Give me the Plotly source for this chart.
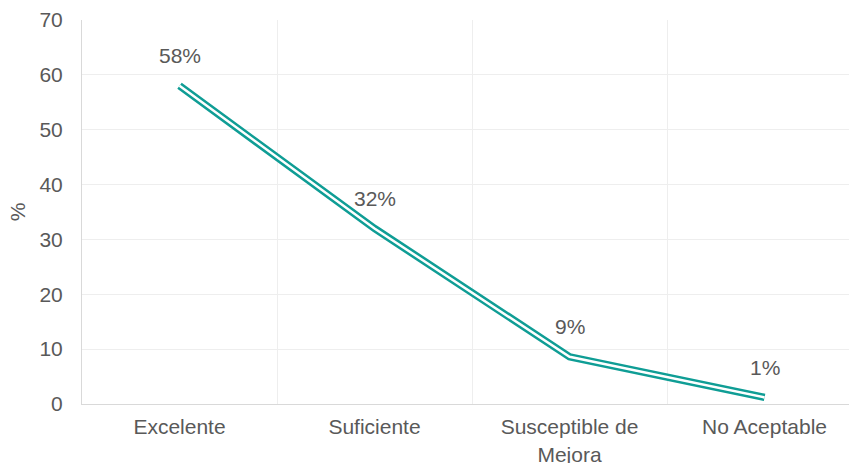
import plotly.graph_objects as go

categories = ["Excelente", "Suficiente", "Susceptible de<br>Mejora", "No Aceptable"]
values = [58, 32, 8.6, 1.2]
labels = ["58%", "32%", "9%", "1%"]
y_ticks = [0, 10, 20, 30, 40, 50, 60, 70]

teal = "#0F9D95"
grey = "#595959"
fnt = "Liberation Sans, Arial"

fig = go.Figure()
fig.add_trace(go.Scatter(x=categories, y=values, mode="lines",
                         line=dict(color=teal, width=7.5), hoverinfo="skip", showlegend=False))
fig.add_trace(go.Scatter(x=categories, y=values, mode="lines",
                         line=dict(color="white", width=2.5), hoverinfo="skip", showlegend=False))

for c, v, t in zip(categories, values, labels):
    fig.add_annotation(x=c, y=v, text=t, showarrow=False, yshift=30,
                       font=dict(family=fnt, size=21, color=grey))

fig.update_layout(
    width=849, height=463,
    margin=dict(l=82, r=0, t=20, b=59),
    paper_bgcolor="white", plot_bgcolor="white",
    font=dict(family=fnt, size=21, color=grey),
)
fig.update_xaxes(
    type="category", range=[-0.5, 3.433], tickson="boundaries", automargin=False,
    showgrid=True, gridcolor="#EEEEEE", gridwidth=1,
    showline=True, linecolor="#D9D9D9", linewidth=1,
    ticks="", ticklabelstandoff=4, tickfont=dict(family=fnt, size=21, color=grey),
)
fig.update_yaxes(
    range=[0, 70], tickvals=y_ticks, showgrid=True, gridcolor="#EEEEEE", gridwidth=1,
    showline=True, linecolor="#D9D9D9", linewidth=1, zeroline=False, automargin=False,
    ticks="", ticklabelstandoff=14, tickfont=dict(family=fnt, size=21, color=grey),
    title=dict(text="%", font=dict(family=fnt, size=21, color=grey), standoff=8),
)
fig.write_html("out.html", config={"displayModeBar": False},
               post_script="document.body.style.margin='0';document.body.style.overflow='hidden';")
